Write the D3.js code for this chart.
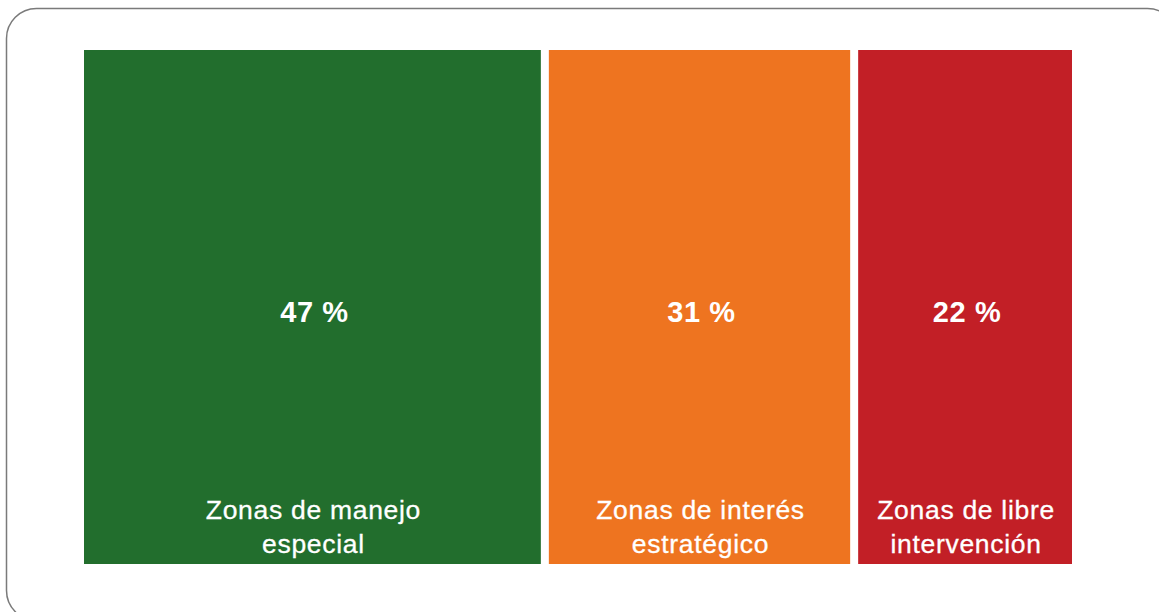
<!DOCTYPE html>
<html><head><meta charset="utf-8">
<script src="https://cdn.jsdelivr.net/npm/d3@7"></script>
<style>html,body{margin:0;padding:0;background:#fff;}svg{display:block;}</style>
</head><body>
<svg id="chart" width="1159" height="612"></svg>
<script>
const categories = ["Zonas de manejo especial", "Zonas de interés estratégico", "Zonas de libre intervención"];
const labelLines = [["Zonas de manejo", "especial"], ["Zonas de interés", "estratégico"], ["Zonas de libre", "intervención"]];
const values = [47, 31, 22];
const colors = ["#226e2d", "#ee7420", "#c21f26"];

(function () {
const svg = d3.select("#chart");
// frame
svg.append("rect").attr("x", 6.5).attr("y", 8.5).attr("width", 1171).attr("height", 612)
  .attr("rx", 30).attr("ry", 30).attr("fill", "none").attr("stroke", "#7a7a7a").attr("stroke-width", 1.5);

const mLeft = 84, mRight = 1072, mTop = 50, mBottom = 564, gap = 8;
const total = d3.sum(values);
const x = d3.scaleLinear().domain([0, total]).range([0, mRight - mLeft - gap * (values.length - 1)]);
const y = d3.scaleLinear().domain([0, 1]).range([mBottom, mTop]);

const cum = [];
values.reduce((a, v, i) => { cum[i] = a; return a + v; }, 0);
const data = values.map((v, i) => ({ v, i, x0: mLeft + x(cum[i]) + gap * i, w: x(v) }));

const g = svg.selectAll("g.bar").data(data).join("g").attr("class", "bar");
g.append("rect").attr("x", d => d.x0).attr("y", y(1)).attr("width", d => d.w)
  .attr("height", y(0) - y(1)).attr("fill", d => colors[d.i]);
g.append("text").attr("x", d => d.x0 + d.w / 2 + 2).attr("y", 322)
  .attr("text-anchor", "middle").attr("fill", "#fff")
  .style("font-family", "Liberation Sans, Arial, Helvetica, sans-serif")
  .style("font-weight", "bold").style("font-size", "29px").style("letter-spacing", "0.6px")
  .text(d => d.v + " %");
const t = g.append("text").attr("text-anchor", "middle").attr("fill", "#fff")
  .style("font-family", "Liberation Sans, Arial, Helvetica, sans-serif")
  .style("font-size", "26.5px").style("letter-spacing", "0.7px")
  .style("stroke", "#fff").style("stroke-width", "0.3px");
t.selectAll("tspan").data(d => labelLines[d.i].map(s => ({ s, d }))).join("tspan")
  .attr("x", o => o.d.x0 + o.d.w / 2 + 1).attr("y", (o, j) => 519 + j * 34).text(o => o.s);
})();
</script>
</body></html>
